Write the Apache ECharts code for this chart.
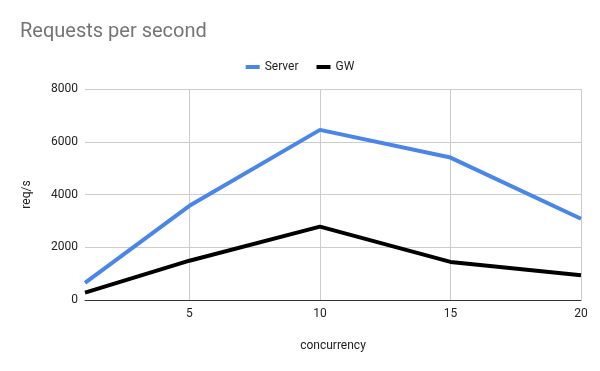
<!DOCTYPE html>
<html><head><meta charset="utf-8">
<script src="https://cdn.jsdelivr.net/npm/echarts@6/dist/echarts.min.js"></script>
<style>html,body{margin:0;padding:0;background:#fff}#c{width:600px;height:371px}</style>
</head><body><div id="c"></div>
<script>
const concurrency = [1, 5, 10, 15, 20];
const serverValues = [650, 3570, 6450, 5400, 3080];
const gwValues = [280, 1490, 2780, 1445, 940];
const xTicks = [5, 10, 15, 20];
const yTicks = [0, 2000, 4000, 6000, 8000];

const chart = echarts.init(document.getElementById('c'), null, {renderer: 'canvas'});
const font = 'Roboto, Arial, sans-serif';
chart.setOption({
  animation: false,
  backgroundColor: '#fff',
  title: {
    text: 'Requests per second', left: 15, top: 17,
    textStyle: {fontFamily: font, fontSize: 20, fontWeight: 'normal', color: '#757575'}
  },
  legend: {
    top: 56, left: 'center',
    itemWidth: 14, itemHeight: 4, itemGap: 18, icon: 'rect',
    textStyle: {fontFamily: font, fontSize: 12, color: '#222'},
    data: ['Server', 'GW']
  },
  grid: {left: 85, right: 19, top: 89, bottom: 71, containLabel: false},
  xAxis: {
    type: 'value', min: 1, max: 20,
    name: 'concurrency', nameLocation: 'middle', nameGap: 40,
    nameTextStyle: {fontFamily: font, fontSize: 12, color: '#222'},
    axisLine: {show: true, lineStyle: {color: '#333', width: 1}},
    axisTick: {show: false, customValues: xTicks},
    axisLabel: {customValues: xTicks, fontFamily: font, fontSize: 12, color: '#222', margin: 8},
    splitLine: {show: true, lineStyle: {color: '#ccc', width: 1}}
  },
  yAxis: {
    type: 'value', min: 0, max: 8000, interval: 2000,
    name: 'req/s', nameLocation: 'middle', nameGap: 52, nameRotate: 90,
    nameTextStyle: {fontFamily: font, fontSize: 12, color: '#222'},
    axisLine: {show: false}, axisTick: {show: false},
    axisLabel: {customValues: yTicks, formatter: v => String(v), fontFamily: font, fontSize: 12, color: '#222', margin: 7},
    splitLine: {show: true, lineStyle: {color: '#ccc', width: 1}}
  },
  series: [
    {name: 'Server', type: 'line', data: concurrency.map((x, i) => [x, serverValues[i]]),
     symbol: 'none', lineStyle: {width: 4, color: '#4a86e8'}, itemStyle: {color: '#4a86e8'}},
    {name: 'GW', type: 'line', data: concurrency.map((x, i) => [x, gwValues[i]]),
     symbol: 'none', lineStyle: {width: 4, color: '#000'}, itemStyle: {color: '#000'}}
  ]
});
</script></body></html>
